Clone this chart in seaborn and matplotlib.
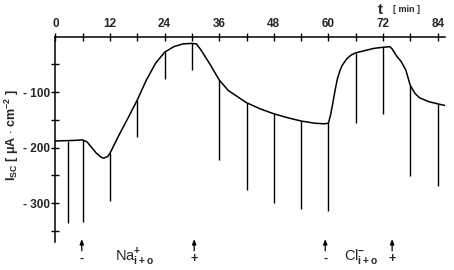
import numpy as np
import pandas as pd
import matplotlib
matplotlib.use("Agg")
import matplotlib.pyplot as plt
import seaborn as sns

# ---- data ----
t_curve = [0, 2, 4, 6, 7, 8, 9, 10, 10.6, 11.5, 12, 14, 16, 18, 20, 22, 24, 26, 28, 30,
           31, 32, 34, 36, 38, 40, 42, 45, 48, 51, 54, 57, 59, 60, 60.5, 61, 61.5, 62,
           62.5, 63, 64, 65, 66, 68, 70, 72, 73.5, 74, 75, 76, 77, 78, 79, 80, 82, 84, 85.6]
isc_curve = [-188, -187.5, -187, -186, -190, -200, -210, -217, -219, -216, -210, -177, -146,
             -114, -78, -48, -28, -18, -13, -12, -13, -24, -50, -78, -97, -108, -119, -130,
             -139, -146, -152, -156, -157, -156, -140, -118, -95, -75, -62, -52, -40, -33,
             -29, -25, -21, -19, -18, -22, -35, -45, -60, -88, -102, -110, -117, -121, -124]

pulse_t = [2.8, 6, 12, 18, 24, 30, 36, 42, 48, 54, 60, 66, 72, 78, 84]
pulse_top = [-188, -186, -210, -114, -28, -12, -78, -119, -139, -152, -156, -29, -19, -88, -121]
pulse_bottom = [-336, -334, -296, -180, -77, -60, -223, -277, -300, -310, -314, -156, -140, -251, -270]

arrow_t = [5.8, 30.5, 59.3, 74]
arrow_sign = ["-", "+", "-", "+"]

x_major = [0, 12, 24, 36, 48, 60, 72, 84]
x_minor = [6, 18, 30, 42, 54, 66, 78]
y_major = [-100, -200, -300]
y_major_labels = ["- 100", "- 200", "- 300"]
y_minor = [-50, -150, -250, -350]

# ---- style ----
sns.set_style("ticks")
plt.rcParams["font.family"] = ["Liberation Sans", "DejaVu Sans"]
plt.rcParams["mathtext.fontset"] = "custom"
plt.rcParams["mathtext.rm"] = "Liberation Sans:bold"
plt.rcParams["mathtext.it"] = "Liberation Sans:bold"
plt.rcParams["mathtext.bf"] = "Liberation Sans:bold"

fig = plt.figure(figsize=(4.54, 2.70), dpi=100)
ax = fig.add_axes([0.122, 0.104, 0.858, 0.760])

df = pd.DataFrame({"t": t_curve, "isc": isc_curve})
sns.lineplot(data=df, x="t", y="isc", ax=ax, color="black", lw=1.1,
             sort=False, estimator=None)
ax.vlines(pulse_t, pulse_bottom, pulse_top, color="black", lw=1.0)

ax.set_xlim(0, 85.6)
ax.set_ylim(-370, 0)

for s in ["bottom", "right"]:
    ax.spines[s].set_visible(False)
for s in ["top", "left"]:
    ax.spines[s].set_linewidth(1.1)
    ax.spines[s].set_color("black")

ax.xaxis.tick_top()
ax.set_xticks(x_major)
ax.set_xticklabels([str(v) for v in x_major])
ax.set_xticks(x_minor, minor=True)
ax.set_yticks(y_major)
ax.set_yticklabels(y_major_labels)
ax.set_yticks(y_minor, minor=True)
ax.tick_params(which="both", direction="inout", length=6, width=1.0, color="black",
               labelsize=8.5, pad=1)
ax.tick_params(axis="x", which="major", pad=2)
for lab in ax.get_xticklabels() + ax.get_yticklabels():
    lab.set_fontweight("bold")

ax.set_xlabel("")
ax.set_ylabel("")
fig.text(0.026, 0.50, r"I$_{SC}$ [ $\mu$A $\cdot$ cm$^{-2}$ ]", fontsize=9,
         fontweight="bold", rotation=90, ha="center", va="center")

# t [min] label
fig.text(0.837, 0.963, "t", fontsize=11, fontweight="bold", ha="center", va="center")
fig.text(0.895, 0.963, "[ min ]", fontsize=6.5, fontweight="bold", ha="center", va="center")

# arrows and signs below
for at, sg in zip(arrow_t, arrow_sign):
    ax.annotate("", xy=(at, -365), xytext=(at, -386), xycoords="data",
                annotation_clip=False,
                arrowprops=dict(arrowstyle="-|>,head_length=0.3,head_width=0.12",
                                color="black", lw=0.9, shrinkA=0, shrinkB=0))
    ax.text(at, -400, sg, fontsize=9, fontweight="bold", ha="center", va="center",
            clip_on=False)

ax.text(17.5, -397, r"Na$^{+}_{i+o}$", fontsize=10.5, ha="center", va="center", clip_on=False)
ax.text(67.2, -397, r"Cl$^{-}_{i+o}$", fontsize=10.5, ha="center", va="center", clip_on=False)

fig.savefig("out.png", dpi=100)
